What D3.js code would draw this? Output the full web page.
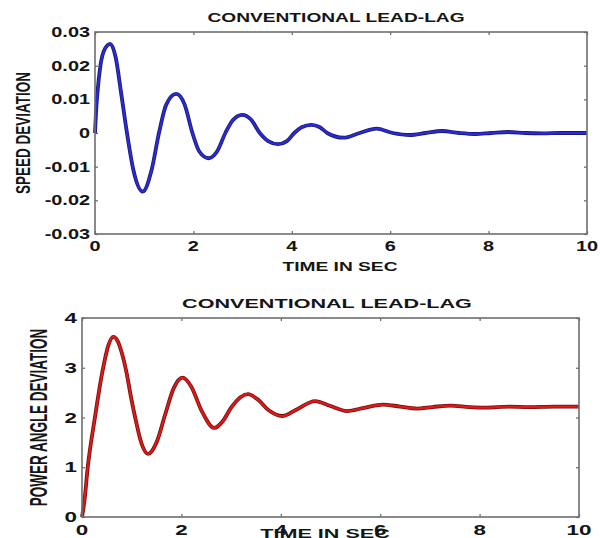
<!DOCTYPE html>
<html>
<head>
<meta charset="utf-8">
<script src="https://cdn.jsdelivr.net/npm/d3@7"></script>
<style>
body { margin: 0; background: #fff; }
text { font-family: "Liberation Sans", Arial, sans-serif; font-weight: bold; fill: #151515; }
</style>
</head>
<body>
<svg id="chart" width="600" height="538"></svg>
<script>
// values
var speedTime = [0, 0.02, 0.05, 0.11, 0.2, 0.31, 0.42, 0.53, 0.65, 0.78, 0.97, 1.15, 1.3, 1.45, 1.65, 1.82, 1.98,
    2.12, 2.31, 2.48, 2.65, 2.8, 2.99, 3.17, 3.35, 3.52, 3.72, 3.9, 4.05, 4.2, 4.4, 4.57, 4.72, 5.05, 5.38,
    5.72, 6.05, 6.4, 6.72, 7.05, 7.4, 7.72, 8.05, 8.4, 8.75, 9.1, 9.45, 10];
var speedValues = [0, 0.006, 0.012, 0.02, 0.025, 0.0265, 0.0225, 0.012, 0, -0.011, -0.0174, -0.011, 0, 0.0085, 0.0116, 0.0085, 0,
    -0.0055, -0.0075, -0.0055, 0, 0.0038, 0.0054, 0.004, 0, -0.0024, -0.0033, -0.0024, 0, 0.0017, 0.0024, 0.0017, 0, -0.0014, 0,
    0.0013, 0, -0.0006, 0, 0.0006, 0, -0.0003, 0, 0.0003, 0, -0.0001, 0, 0];

var angleTime = [0, 0.05, 0.11, 0.26, 0.42, 0.53, 0.63, 0.72, 0.8, 0.9, 0.98, 1.07, 1.2, 1.33, 1.5, 1.67, 1.85, 2.02,
    2.2, 2.4, 2.66, 2.85, 3.0, 3.34, 3.55, 3.75, 4.04, 4.3, 4.69, 5.0, 5.33, 5.7, 6.05, 6.4, 6.74, 7.05, 7.41,
    7.8, 8.1, 8.6, 9.0, 9.5, 10];
var angleValues = [0, 0.33, 0.95, 2.0, 2.97, 3.45, 3.62, 3.53, 3.3, 2.88, 2.44, 2.0, 1.47, 1.27, 1.5, 2.05, 2.6, 2.8,
    2.62, 2.15, 1.79, 1.95, 2.2, 2.47, 2.35, 2.15, 2.03, 2.15, 2.33, 2.23, 2.13, 2.2, 2.26, 2.22, 2.18, 2.21, 2.24,
    2.21, 2.2, 2.22, 2.21, 2.22, 2.22];

var timeTicks = [0, 2, 4, 6, 8, 10];
var speedTicks = [-0.03, -0.02, -0.01, 0, 0.01, 0.02, 0.03];
var speedTickLabels = ["-0.03", "-0.02", "-0.01", "0", "0.01", "0.02", "0.03"];
var angleTicks = [0, 1, 2, 3, 4];
var angleTickLabels = ["0", "1", "2", "3", "4"];

var titleText = "CONVENTIONAL LEAD-LAG";
var xLabelText = "TIME IN SEC";

var svg = d3.select("#chart");

// the source picture is stretched sideways, so text gets a horizontal scale
function label(g, x, y, str, anchor, size, sx, rotated) {
    var t = "translate(" + x + "," + y + ") scale(" + sx + ",1)" + (rotated ? " rotate(-90)" : "");
    g.append("text")
        .attr("transform", t)
        .attr("text-anchor", anchor)
        .attr("font-size", size)
        .text(str);
}

function drawPanel(p) {
    var g = svg.append("g");

    var x = d3.scaleLinear().domain([0, 10]).range([p.left, p.right]);
    var y = d3.scaleLinear().domain(p.yDomain).range([p.bottom, p.top]);

    // inward ticks on all four sides
    g.append("g").attr("transform", "translate(0," + p.bottom + ")")
        .call(d3.axisBottom(x).tickValues(timeTicks).tickSize(-3).tickFormat(""));
    g.append("g").attr("transform", "translate(0," + p.top + ")")
        .call(d3.axisTop(x).tickValues(timeTicks).tickSize(-3).tickFormat(""));
    g.append("g").attr("transform", "translate(" + p.left + ",0)")
        .call(d3.axisLeft(y).tickValues(p.yTicks).tickSize(-3).tickFormat(""));
    g.append("g").attr("transform", "translate(" + p.right + ",0)")
        .call(d3.axisRight(y).tickValues(p.yTicks).tickSize(-3).tickFormat(""));
    g.selectAll(".domain").remove();
    g.selectAll(".tick line").attr("stroke", "#666").attr("stroke-width", 1.2);

    var line = d3.line()
        .x(function(d) { return x(d[0]); })
        .y(function(d) { return y(d[1]); })
        .curve(d3.curveMonotoneX);

    var pts = p.times.map(function(t, i) { return [t, p.values[i]]; });

    g.append("path")
        .datum(pts)
        .attr("fill", "none")
        .attr("stroke", p.edge)
        .attr("stroke-width", 3.8)
        .attr("d", line);
    g.append("path")
        .datum(pts)
        .attr("fill", "none")
        .attr("stroke", p.color)
        .attr("stroke-width", 2.2)
        .attr("d", line);

    g.append("rect")
        .attr("x", p.left).attr("y", p.top)
        .attr("width", p.right - p.left).attr("height", p.bottom - p.top)
        .attr("fill", "none").attr("stroke", "#6e6e6e").attr("stroke-width", 1.6);

    timeTicks.forEach(function(t) {
        label(g, x(t), p.xTickY, String(t), "middle", 14, p.sx, false);
    });
    p.yTicks.forEach(function(v, i) {
        label(g, p.left - 5, y(v) + 5, p.yLabels[i], "end", 14, p.sx, false);
    });

    label(g, p.titleX, p.titleY, titleText, "middle", 13.5, p.sx, false);
    label(g, p.xLabelX, p.xLabelY, xLabelText, "middle", 13.5, p.sx, false);
    label(g, p.yLabelX, (p.top + p.bottom) / 2, p.yLabel, "middle", 13.5, p.ysx, true);
}

drawPanel({
    left: 95, right: 587, top: 32, bottom: 234,
    yDomain: [-0.03, 0.03], yTicks: speedTicks, yLabels: speedTickLabels,
    times: speedTime, values: speedValues,
    color: "#2b2bd6", edge: "#1a1a70",
    sx: 1.42, ysx: 1.45,
    xTickY: 251, titleX: 336, titleY: 22, xLabelX: 340, xLabelY: 271,
    yLabel: "SPEED DEVIATION", yLabelX: 30
});

drawPanel({
    left: 82, right: 579, top: 318, bottom: 517,
    yDomain: [0, 4], yTicks: angleTicks, yLabels: angleTickLabels,
    times: angleTime, values: angleValues,
    color: "#e01818", edge: "#6e1010",
    sx: 1.6, ysx: 1.8,
    xTickY: 535, titleX: 327, titleY: 308, xLabelX: 325, xLabelY: 538,
    yLabel: "POWER ANGLE DEVIATION", yLabelX: 47
});
</script>
</body>
</html>
